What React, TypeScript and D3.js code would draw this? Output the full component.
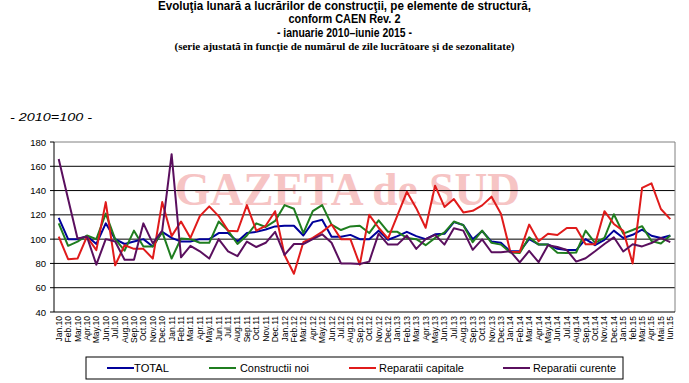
import React from "react";
import * as d3 from "d3";

const months = ["Jan","Feb","Mar","Apr","May","Jun","Jul","Aug","Sep","Oct","Nov","Dec"];
const years = ["10","11","12","13","14"];
const labels2015 = ["Jan.15","feb.15","Mar.15","Apr.15","Mai.15","Iun.15"];
const categories: string[] = [
  ...years.flatMap((y) => months.map((m) => `${m}.${y}`)),
  ...labels2015,
];

const total = [117.5,100,100,102.5,96,113,100,96,98,100,94,106,101,98,98,100,100,105,105,98,105,106,108,110.5,111,111,103,114,116,102,102,103.5,100,100,107,99.5,102.5,106,102.5,100,104,104.4,114,111.7,100,106.7,98,97,90,90,100,95.6,95.6,92,91,91,100,95,99.4,107,101,103.6,107.8,102.8,101,103];
const constructiiNoi = [113,94.5,98,103,100,121,100,90.5,107,94,94,106,84,100.5,100,97,97,114.5,107,96,103,113,110,115,128,125,105,123,128,112,107.5,110.5,111,105,115.5,106,106,101,100,95,101,105.5,114.5,111.5,97.5,107,97,95.5,89,88.5,101.5,95.5,95.5,88.8,88.6,89,107,97,101,120.5,104.5,107.5,110.7,98.5,96.4,103];
const reparatiiCapitale = [102,83.5,84,102,91,130.5,78.5,95,92,92,84,130.5,102.5,114.5,101,119,127,119,107,106.5,128,107,111,123,87,71.5,97.5,101,106,112,100,100,79,120,109.4,100.5,119.5,139,125.5,109.4,144,126.5,133,122,123.3,127.8,135,121,89.7,89.5,112,98.2,104.4,103.4,109.2,109.2,95.7,95.7,123,112.5,106.8,80,142.2,146,124.8,116.5];
const reparatiiCurente = [166,133,100.5,102,79,100,98,83,83,113,96.5,107,170,85,94.5,90,84,100,90,86,98,93.5,97,106,87,96,96,100,104,97,80,80,79.5,81.5,104.5,95.5,95.5,103,92,100,103.5,95.5,109,107,91.2,99.8,89.2,89.2,90,80.8,90.3,81,95,93.5,91,81.5,84.3,90,96,101.5,89.8,95.8,94,96.8,101,97.5];

const yTicks = [40, 60, 80, 100, 120, 140, 160, 180];

const seriesNames = ["TOTAL", "Constructii noi", "Reparatii capitale", "Reparatii curente"];
const seriesColors = ["#00009a", "#1f7d1f", "#e01b1b", "#5a0f5e"];
const seriesData = [total, constructiiNoi, reparatiiCapitale, reparatiiCurente];

const titleLines = [
  "Evoluţia lunară a lucrărilor de construcţii, pe elemente de structură,",
  "conform CAEN Rev. 2",
  "- ianuarie 2010–iunie 2015 -",
  "(serie ajustată în funcţie de numărul de zile lucrătoare şi de sezonalitate)",
];

export default function App() {
  const W = 689, H = 383;
  const x0 = 54, x1 = 675, yTop = 142, yBot = 312;
  const x = d3.scaleBand<string>().domain(categories).range([x0, x1]);
  const bw = x.bandwidth();
  const cx = (i: number) => (x(categories[i]) as number) + bw / 2;
  const y = d3.scaleLinear().domain([40, 180]).range([yBot, yTop]);
  const line = d3.line<number>().x((_, i) => cx(i)).y((d) => y(d));

  const narrow = "'Liberation Sans Narrow','Arial Narrow','Liberation Sans',Arial,sans-serif";
  const sans = "'Liberation Sans',Arial,sans-serif";

  const titleSpecs = [
    { y: 10, w: 373, size: 12 },
    { y: 23, w: 112, size: 12 },
    { y: 37, w: 135, size: 12 },
    { y: 50, w: 340, size: 10.5 },
  ];

  const legendItems = [
    { lx: 107, tx: 134, tw: 35 },
    { lx: 209, tx: 240, tw: 69 },
    { lx: 349, tx: 379, tw: 85 },
    { lx: 503, tx: 533, tw: 83 },
  ];

  return (
    <svg width={W} height={H} style={{ position: "absolute", left: 0, top: 0, background: "#fff" }}>
      <rect x={0} y={0} width={W} height={H} fill="#fff" />
      {titleLines.map((t, i) => (
        <text key={i} x={344.5} y={titleSpecs[i].y} textAnchor="middle" fontFamily={i === 3 ? "'Liberation Serif','Times New Roman',serif" : narrow}
          fontWeight="bold" fontSize={titleSpecs[i].size} textLength={titleSpecs[i].w} lengthAdjust="spacingAndGlyphs" fill="#000">{t}</text>
      ))}
      <text x={10} y={121} fontFamily={sans} fontStyle="italic" fontSize={11} textLength={82} lengthAdjust="spacingAndGlyphs" fill="#000">- 2010=100 -</text>

      {/* watermark */}
      <text x={347.5} y={205} textAnchor="middle" fontFamily="'Liberation Serif','Times New Roman',serif" fontWeight="bold" fontSize={47}
        fill="#f6c4c4" textLength={345} lengthAdjust="spacingAndGlyphs">GAZETA de SUD</text>

      {/* grid */}
      {yTicks.filter((t) => t > 40 && t < 180).map((t) => (
        <line key={t} x1={x0} x2={x1} y1={y(t)} y2={y(t)} stroke="#000" strokeWidth={1} />
      ))}
      {/* plot border */}
      <line x1={x0} x2={x1} y1={yTop} y2={yTop} stroke="#808080" strokeWidth={1} />
      <line x1={x1} x2={x1} y1={yTop} y2={yBot} stroke="#808080" strokeWidth={1} />

      {/* axes */}
      <line x1={x0} x2={x0} y1={yTop} y2={yBot} stroke="#000" strokeWidth={1} />
      <line x1={x0} x2={x1} y1={yBot} y2={yBot} stroke="#000" strokeWidth={1} />
      {yTicks.map((t) => (
        <g key={t}>
          <line x1={x0 - 4} x2={x0} y1={y(t)} y2={y(t)} stroke="#000" />
          <text x={46} y={y(t) + 3.5} textAnchor="end" fontFamily={sans} fontSize={9.5} fill="#000">{t}</text>
        </g>
      ))}
      {categories.map((c, i) => (
        <text key={c} transform={`translate(${cx(i) + 3},${316}) rotate(-90)`} textAnchor="end" fontFamily={sans} fontSize={8.5} fill="#000">{c}</text>
      ))}

      {/* series */}
      {seriesData.map((s, k) => (
        <path key={k} d={line(s) || ""} fill="none" stroke={seriesColors[k]} strokeWidth={2} strokeLinejoin="round" />
      ))}

      {/* legend */}
      <rect x={86} y={357} width={537} height={22} fill="#fff" stroke="#000" strokeWidth={1} />
      {legendItems.map((it, k) => (
        <g key={k}>
          <line x1={it.lx} x2={it.lx + 27} y1={368} y2={368} stroke={seriesColors[k]} strokeWidth={2} />
          <text x={it.tx} y={372} fontFamily={narrow} fontSize={11} textLength={it.tw} lengthAdjust="spacingAndGlyphs" fill="#000">{seriesNames[k]}</text>
        </g>
      ))}
    </svg>
  );
}
